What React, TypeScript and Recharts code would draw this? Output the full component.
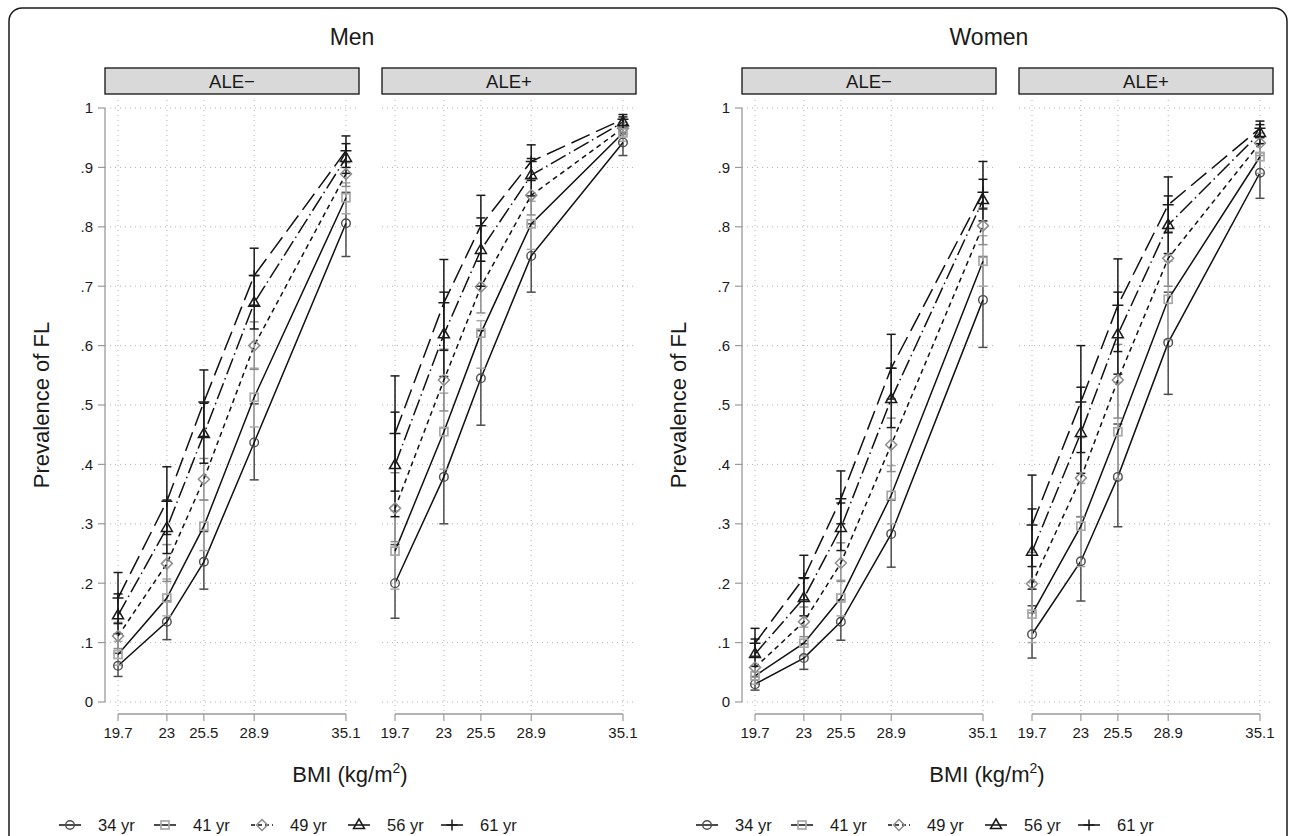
import React from "react";
import {
  LineChart,
  Line,
  XAxis,
  YAxis,
  CartesianGrid,
  ErrorBar,
  ReferenceLine,
} from "recharts";

// ---------------- DATA ----------------
const bmi = [19.7, 23, 25.5, 28.9, 35.1];
const ageLabels = ["34 yr", "41 yr", "49 yr", "56 yr", "61 yr"];
const yTicks = [0, 0.1, 0.2, 0.3, 0.4, 0.5, 0.6, 0.7, 0.8, 0.9, 1];
const sexTitles = ["Men", "Women"];
const stripLabels = ["ALE\u2212", "ALE+"];

// Men, ALE-  (rows: 34, 41, 49, 56, 61 yr)
const menNegEst = [
  [0.061, 0.135, 0.236, 0.437, 0.806],
  [0.08, 0.175, 0.296, 0.513, 0.849],
  [0.111, 0.233, 0.375, 0.6, 0.889],
  [0.146, 0.293, 0.451, 0.672, 0.916],
  [0.175, 0.338, 0.505, 0.718, 0.928],
];
const menNegLo = [
  [0.043, 0.105, 0.19, 0.374, 0.75],
  [0.062, 0.145, 0.255, 0.463, 0.822],
  [0.09, 0.203, 0.34, 0.56, 0.868],
  [0.115, 0.25, 0.402, 0.628, 0.89],
  [0.132, 0.282, 0.447, 0.668, 0.9],
];
const menNegHi = [
  [0.082, 0.17, 0.287, 0.502, 0.858],
  [0.102, 0.207, 0.34, 0.562, 0.874],
  [0.134, 0.265, 0.41, 0.64, 0.908],
  [0.182, 0.34, 0.503, 0.718, 0.94],
  [0.218, 0.396, 0.559, 0.764, 0.953],
];

// Men, ALE+
const menPosEst = [
  [0.2, 0.379, 0.545, 0.751, 0.942],
  [0.254, 0.455, 0.621, 0.805, 0.958],
  [0.326, 0.542, 0.699, 0.853, 0.966],
  [0.399, 0.619, 0.761, 0.887, 0.976],
  [0.452, 0.672, 0.802, 0.91, 0.981],
];
const menPosLo = [
  [0.141, 0.3, 0.466, 0.69, 0.92],
  [0.19, 0.392, 0.562, 0.762, 0.944],
  [0.27, 0.49, 0.655, 0.82, 0.955],
  [0.312, 0.548, 0.7, 0.852, 0.966],
  [0.355, 0.592, 0.742, 0.878, 0.972],
];
const menPosHi = [
  [0.265, 0.462, 0.625, 0.805, 0.958],
  [0.322, 0.52, 0.642, 0.843, 0.97],
  [0.386, 0.594, 0.742, 0.882, 0.976],
  [0.488, 0.69, 0.815, 0.915, 0.985],
  [0.549, 0.745, 0.853, 0.938, 0.989],
];

// Women, ALE-
const womenNegEst = [
  [0.03, 0.074, 0.135, 0.283, 0.677],
  [0.044, 0.099, 0.175, 0.348, 0.742],
  [0.058, 0.135, 0.234, 0.433, 0.802],
  [0.081, 0.175, 0.293, 0.51, 0.845],
  [0.099, 0.209, 0.342, 0.562, 0.858],
];
const womenNegLo = [
  [0.02, 0.055, 0.104, 0.227, 0.597],
  [0.03, 0.078, 0.145, 0.3, 0.7],
  [0.042, 0.11, 0.203, 0.388, 0.77],
  [0.06, 0.145, 0.255, 0.462, 0.81],
  [0.076, 0.172, 0.3, 0.51, 0.83],
];
const womenNegHi = [
  [0.043, 0.098, 0.172, 0.34, 0.75],
  [0.06, 0.126, 0.205, 0.398, 0.785],
  [0.078, 0.16, 0.268, 0.478, 0.832],
  [0.106, 0.208, 0.335, 0.562, 0.88],
  [0.124, 0.247, 0.389, 0.619, 0.91],
];

// Women, ALE+
const womenPosEst = [
  [0.114, 0.237, 0.379, 0.605, 0.891],
  [0.148, 0.296, 0.455, 0.678, 0.918],
  [0.199, 0.377, 0.542, 0.747, 0.941],
  [0.253, 0.453, 0.619, 0.803, 0.958],
  [0.298, 0.505, 0.668, 0.837, 0.966],
];
const womenPosLo = [
  [0.074, 0.17, 0.295, 0.518, 0.848],
  [0.1, 0.228, 0.375, 0.61, 0.89],
  [0.15, 0.312, 0.478, 0.7, 0.92],
  [0.19, 0.385, 0.552, 0.755, 0.94],
  [0.228, 0.42, 0.59, 0.79, 0.95],
];
const womenPosHi = [
  [0.162, 0.312, 0.468, 0.69, 0.925],
  [0.202, 0.368, 0.538, 0.742, 0.94],
  [0.252, 0.445, 0.602, 0.792, 0.958],
  [0.325, 0.53, 0.69, 0.852, 0.972],
  [0.382, 0.6, 0.746, 0.884, 0.978],
];

// ---------------- STYLE ----------------
const FONT = "'Liberation Sans', Arial, Helvetica, sans-serif";
const X_DOMAIN: [number, number] = [18.82, 35.98];
const Y_DOMAIN: [number, number] = [-0.0202, 1.0135];
const PLOT_W = 254;
const AXIS_GREY = "#9a9a9a";

const markerKinds = ["circle", "square", "diamond", "triangle", "plus"];
const markerColors = ["#4d4d4d", "#a8a8a8", "#8c8c8c", "#1a1a1a", "#1a1a1a"];
const lineDashes = ["", "", "5 4", "17 4 1.5 4", "20 7"];

function Marker({ kind, cx, cy, color }: any) {
  if (cx == null || cy == null) return null;
  const sw = 1.5;
  switch (kind) {
    case "circle":
      return <circle cx={cx} cy={cy} r={4.3} fill="none" stroke={color} strokeWidth={1.4} />;
    case "square":
      return <rect x={cx - 4} y={cy - 4} width={8} height={8} fill="none" stroke={color} strokeWidth={1.7} />;
    case "diamond":
      return (
        <path
          d={`M${cx},${cy - 5.5}L${cx + 5.5},${cy}L${cx},${cy + 5.5}L${cx - 5.5},${cy}Z`}
          fill="none"
          stroke={color}
          strokeWidth={sw}
        />
      );
    case "triangle":
      return (
        <path
          d={`M${cx},${cy - 6}L${cx + 5.5},${cy + 3.5}L${cx - 5.5},${cy + 3.5}Z`}
          fill="none"
          stroke={color}
          strokeWidth={sw}
        />
      );
    default:
      return (
        <path
          d={`M${cx - 5.5},${cy}H${cx + 5.5}M${cx},${cy - 5.5}V${cy + 5.5}`}
          fill="none"
          stroke={color}
          strokeWidth={sw}
        />
      );
  }
}

const fmtY = (v: number) => (v === 0 ? "0" : v === 1 ? "1" : "." + Math.round(v * 10));

function Panel({ left, showY, est, lo, hi }: any) {
  const data = bmi.map((x, i) => {
    const row: any = { x };
    est.forEach((s: number[], k: number) => {
      row["s" + k] = s[i];
      row["e" + k] = [s[i] - lo[k][i], hi[k][i] - s[i]];
    });
    return row;
  });
  const yw = showY ? 105 : 0;
  const ml = showY ? 0 : 10;
  return (
    <div style={{ position: "absolute", left: left - yw - ml, top: 95 }}>
      <LineChart
        width={yw + ml + PLOT_W + 10}
        height={669}
        data={data}
        margin={{ top: 5, right: 10, bottom: 0, left: ml }}
      >
        <CartesianGrid
          stroke="#b0b0b0"
          strokeDasharray="1 4"
          horizontalValues={yTicks}
          verticalValues={bmi}
        />
        <XAxis
          type="number"
          dataKey="x"
          domain={X_DOMAIN}
          allowDataOverflow
          ticks={bmi}
          interval={0}
          height={50}
          axisLine={false}
          tickLine={{ stroke: AXIS_GREY, strokeWidth: 1.2 }}
          tickSize={7}
          tickMargin={6}
          tick={{ fontSize: 15, fill: "#1a1a1a", fontFamily: FONT }}
        />
        <YAxis
          type="number"
          domain={Y_DOMAIN}
          allowDataOverflow
          ticks={yTicks}
          interval={0}
          hide={!showY}
          width={yw}
          axisLine={false}
          tickLine={{ stroke: AXIS_GREY, strokeWidth: 1.2 }}
          tickSize={7}
          tickMargin={5}
          tickFormatter={fmtY}
          tick={{ fontSize: 15, fill: "#1a1a1a", fontFamily: FONT }}
        />
        {showY && (
          <ReferenceLine
            segment={[
              { x: X_DOMAIN[0], y: 0 },
              { x: X_DOMAIN[0], y: 1 },
            ]}
            stroke={AXIS_GREY}
            strokeWidth={1.3}
            ifOverflow="visible"
          />
        )}
        <ReferenceLine
          segment={[
            { x: bmi[0], y: Y_DOMAIN[0] },
            { x: bmi[bmi.length - 1], y: Y_DOMAIN[0] },
          ]}
          stroke={AXIS_GREY}
          strokeWidth={1.3}
          ifOverflow="visible"
        />
        {est.map((_: any, k: number) => (
          <Line
            key={"l" + k}
            type="linear"
            dataKey={"s" + k}
            stroke="#111"
            strokeWidth={1.5}
            strokeDasharray={lineDashes[k] || undefined}
            isAnimationActive={false}
            dot={(p: any) => (
              <Marker key={"m" + k + "-" + p.index} kind={markerKinds[k]} cx={p.cx} cy={p.cy} color={markerColors[k]} />
            )}
            activeDot={false}
          >
            <ErrorBar
              dataKey={"e" + k}
              direction="y"
              width={4.5}
              stroke={markerColors[k]}
              strokeWidth={1.5}
              isAnimationActive={false}
            />
          </Line>
        ))}
      </LineChart>
    </div>
  );
}

const legendTextX = [98, 193, 290, 387, 480];

function Overlay() {
  const groups = [
    { off: 0, axisX: 105, panels: [105, 382] },
    { off: 637, axisX: 742, panels: [742, 1019] },
  ];
  return (
    <svg width={1295} height={836} style={{ position: "absolute", left: 0, top: 0 }}>
      <rect x={9} y={8} width={1278} height={860} rx={13} fill="#fff" stroke="#1a1a1a" strokeWidth={1.5} />
      {groups.map((g, gi) => (
        <g key={"g" + gi} fontFamily={FONT} fill="#1a1a1a">
          <text x={352 + g.off} y={45} fontSize={23} textAnchor="middle">
            {sexTitles[gi]}
          </text>
          {g.panels.map((px, pi) => (
            <g key={"s" + pi}>
              <rect x={px} y={68} width={PLOT_W} height={26} fill="#d9d9d9" stroke="#111" strokeWidth={1.3} />
              <text x={px + PLOT_W / 2} y={88} fontSize={18.5} textAnchor="middle">
                {stripLabels[pi]}
              </text>
            </g>
          ))}
          <text
            transform={`translate(${g.axisX - 64},405) rotate(-90)`}
            fontSize={22}
            textAnchor="middle"
            dominantBaseline="central"
          >
            Prevalence of FL
          </text>
          <text x={350 + g.off} y={782} fontSize={22} textAnchor="middle">
            BMI (kg/m
            <tspan dy={-9} fontSize={14}>
              2
            </tspan>
            <tspan dy={9}>)</tspan>
          </text>
          {ageLabels.map((lab, i) => {
            const tx = legendTextX[i] + g.off;
            const cx = tx - 28;
            return (
              <g key={"lg" + i}>
                <line
                  x1={cx - 11}
                  x2={cx + 11}
                  y1={825}
                  y2={825}
                  stroke="#111"
                  strokeWidth={1.5}
                  strokeDasharray={i === 2 ? "4 3" : undefined}
                />
                <Marker kind={markerKinds[i]} cx={cx} cy={825} color={markerColors[i]} />
                <text x={tx} y={831} fontSize={16.5}>
                  {lab}
                </text>
              </g>
            );
          })}
        </g>
      ))}
    </svg>
  );
}

export default function App() {
  return (
    <div
      style={{
        position: "absolute",
        left: 0,
        top: 0,
        width: 1295,
        height: 836,
        background: "#fff",
        overflow: "hidden",
        fontFamily: FONT,
      }}
    >
      <Overlay />
      <Panel left={105} showY est={menNegEst} lo={menNegLo} hi={menNegHi} />
      <Panel left={382} showY={false} est={menPosEst} lo={menPosLo} hi={menPosHi} />
      <Panel left={742} showY est={womenNegEst} lo={womenNegLo} hi={womenNegHi} />
      <Panel left={1019} showY={false} est={womenPosEst} lo={womenPosLo} hi={womenPosHi} />
    </div>
  );
}
